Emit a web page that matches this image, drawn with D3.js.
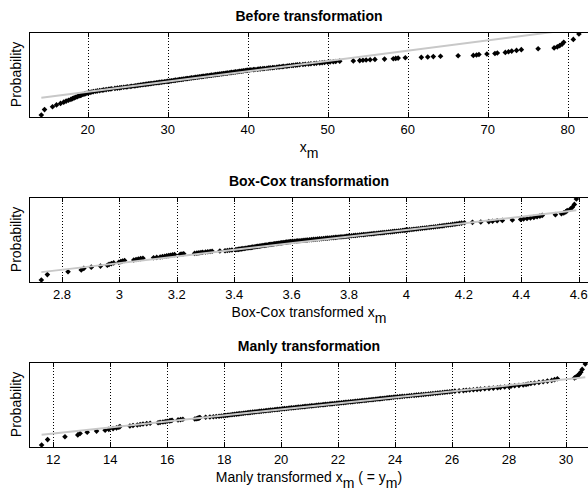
<!DOCTYPE html>
<html><head><meta charset="utf-8">
<script src="https://cdn.jsdelivr.net/npm/d3@7"></script>
<style>
body{margin:0;background:#fff}
svg{display:block}
text{font-family:"Liberation Sans",Arial,Helvetica,sans-serif;fill:#000}
</style>
</head><body>
<svg id="chart" width="588" height="493"></svg>
<script>
// ---- data (sorted sample values) ----
const beforeValues = [
14.2,14.6,15.6,16.1,16.6,17.0,17.3,17.6,17.9,18.1,18.3,18.5,18.7,18.9,19.1,19.2,19.4,19.6,19.7,19.9,
20.1,20.3,20.5,20.7,21.0,21.2,21.5,21.8,22.0,22.3,22.6,22.8,23.0,23.4,23.7,24.0,24.2,24.5,24.8,25.0,
25.3,25.5,25.8,26.0,26.2,26.4,26.6,26.8,27.0,27.2,27.4,27.6,27.8,28.0,28.2,28.4,28.6,28.8,29.0,29.2,
29.4,29.6,29.8,30.0,30.2,
30.4,30.5,30.7,30.9,31.0,31.2,31.4,31.5,31.7,31.9,32.0,32.2,32.4,32.5,32.7,32.9,33.0,33.2,33.4,33.5,
33.7,33.9,34.0,34.2,34.4,34.5,34.7,34.9,35.0,35.2,35.4,35.5,35.7,35.9,36.0,36.2,36.4,36.5,36.7,36.9,
37.0,37.2,37.4,37.5,37.7,37.9,38.0,38.2,38.4,38.5,38.7,38.9,39.0,39.2,39.4,39.5,39.7,39.9,40.0,
40.2,40.4,40.7,40.9,41.2,41.4,41.6,41.9,42.1,42.4,42.6,42.8,43.1,43.3,43.6,43.8,44.0,44.3,44.5,44.8,
45.0,45.2,45.5,45.7,46.0,46.2,
46.5,46.9,47.2,47.6,47.9,48.3,48.6,49.0,49.3,49.6,50.0,50.3,50.7,51.0,
51.5,53.2,54.0,54.4,54.8,55.3,55.9,57.1,58.2,58.5,58.8,59.7,61.7,62.5,63.2,64.1,66.3,68.2,68.6,68.9,
69.9,70.9,71.2,72.2,72.6,73.0,73.6,74.2,76.3,78.3,78.7,79.0,79.3,79.5,80.7,81.4
];
const boxCoxValues = [
2.728,2.749,2.821,2.867,2.876,2.902,2.934,
2.958,2.964,2.972,2.980,
2.998,3.005,3.011,3.018,
3.050,3.058,3.066,3.074,3.082,3.119,
3.130,3.142,3.150,3.158,3.165,3.172,3.178,3.185,3.192,
3.212,3.218,3.224,
3.262,3.270,3.277,3.284,3.290,3.300,3.308,3.316,3.323,3.350,3.368,3.376,3.384,3.392,
3.405,3.410,3.415,3.420,3.425,3.430,3.435,3.440,3.445,3.450,3.455,3.460,3.464,3.469,3.473,3.478,
3.482,3.487,3.491,3.496,3.500,3.505,3.510,3.514,3.519,3.523,3.528,3.532,3.537,3.541,3.546,3.550,
3.555,3.560,3.564,3.569,3.573,3.578,3.582,3.587,3.591,3.596,
3.602,3.609,3.616,3.622,3.629,3.636,3.643,3.650,3.656,3.663,3.670,3.677,3.684,3.690,3.697,3.704,
3.711,3.718,3.724,3.731,3.738,3.745,3.752,3.758,3.765,3.772,3.779,3.786,3.792,3.797,
3.802,3.809,3.816,3.822,3.829,3.836,3.843,3.850,3.856,3.863,3.870,3.877,3.884,3.890,3.897,3.904,
3.911,3.918,3.924,3.931,3.938,3.945,3.952,3.958,3.965,3.972,3.979,3.986,3.992,3.998,
4.004,4.011,4.019,4.026,4.034,4.041,4.049,4.056,4.064,4.071,4.079,4.086,4.094,4.101,4.109,4.116,
4.124,4.131,4.139,4.146,4.154,4.161,4.169,4.176,4.184,4.192,
4.202,4.230,4.259,4.287,4.300,4.316,4.334,4.369,4.398,4.408,4.420,4.432,4.444,4.455,4.465,4.473,
4.519,4.540,4.548,4.555,4.560,4.571,4.578,4.585,4.592
];
const manlyValues = [
11.59,11.80,12.41,12.86,12.94,13.19,13.52,
13.82,13.95,14.10,14.22,
14.30,14.34,14.69,14.80,14.95,15.05,15.15,15.28,15.40,
15.68,15.75,15.85,15.93,16.00,16.08,16.13,16.17,
16.38,16.47,16.55,
16.97,17.02,17.07,17.10,17.13,17.15,
17.35,17.50,17.62,17.72,17.82,17.90,17.98,
18.05,18.11,18.17,18.24,18.30,18.36,18.43,18.49,18.55,18.62,18.68,18.74,18.81,18.87,18.93,19.00,
19.06,19.12,19.19,19.25,19.31,19.38,19.44,19.50,19.57,19.63,19.69,19.76,19.82,19.88,19.94,20.00,
20.06,20.12,20.19,20.25,20.31,20.37,20.44,20.50,20.56,20.62,20.69,20.75,20.81,20.87,20.94,21.00,
21.06,21.12,21.19,21.25,21.31,21.37,21.44,21.50,21.56,21.62,21.69,21.75,21.81,21.87,21.94,22.00,
22.06,22.12,22.19,22.25,22.31,22.37,22.44,22.50,22.56,22.62,22.69,22.75,22.81,22.87,22.94,23.00,
23.06,23.12,23.19,23.25,23.31,23.37,23.44,23.50,23.56,23.62,23.69,23.75,23.81,23.87,23.94,24.00,
24.08,24.17,24.25,24.33,24.42,24.50,24.58,24.67,24.75,24.83,24.92,25.00,25.08,25.17,25.25,25.33,
25.42,25.50,25.58,25.67,25.75,25.83,25.92,26.00,
26.10,26.25,26.40,26.50,26.62,26.75,26.88,27.00,27.15,27.30,27.45,27.60,27.70,27.85,28.00,
28.07,28.20,28.35,28.50,28.60,28.67,28.77,28.90,29.05,29.20,29.35,29.50,29.60,29.70,
30.30,30.36,30.42,30.47,30.52,30.57,30.68
];
const panelTitles = ["Before transformation","Box-Cox transformation","Manly transformation"];
const xLimits = [[12.66,82.66],[2.685,4.636],[11.147,30.81]];
const xTickValues = [
  [20,30,40,50,60,70,80],
  [2.8,3,3.2,3.4,3.6,3.8,4,4.2,4.4,4.6],
  [12,14,16,18,20,22,24,26,28,30]
];
const xLabelParts = [
  [["x",0],["m",1]],
  [["Box-Cox transformed x",0],["m",1]],
  [["Manly transformed x",0],["m",1],[" ( = y",0],["m",1],[")",0]]
];
const yLabel = "Probability";

// ---- helpers ----
function norminv(p){
  const a=[-3.969683028665376e+01,2.209460984245205e+02,-2.759285104469687e+02,1.383577518672690e+02,-3.066479806614716e+01,2.506628277459239e+00];
  const b=[-5.447609879822406e+01,1.615858368580409e+02,-1.556989798598866e+02,6.680131188771972e+01,-1.328068155288572e+01];
  const c=[-7.784894002430293e-03,-3.223964580411365e-01,-2.400758277161838e+00,-2.549732539343734e+00,4.374664141464968e+00,2.938163982698783e+00];
  const d=[7.784695709041462e-03,3.224671290700398e-01,2.445134137142996e+00,3.754408661907416e+00];
  const pl=0.02425, ph=1-pl; let q,r;
  if(p<pl){q=Math.sqrt(-2*Math.log(p));return (((((c[0]*q+c[1])*q+c[2])*q+c[3])*q+c[4])*q+c[5])/((((d[0]*q+d[1])*q+d[2])*q+d[3])*q+1);}
  if(p<=ph){q=p-0.5;r=q*q;return (((((a[0]*r+a[1])*r+a[2])*r+a[3])*r+a[4])*r+a[5])*q/(((((b[0]*r+b[1])*r+b[2])*r+b[3])*r+b[4])*r+1);}
  q=Math.sqrt(-2*Math.log(1-p));return -(((((c[0]*q+c[1])*q+c[2])*q+c[3])*q+c[4])*q+c[5])/((((d[0]*q+d[1])*q+d[2])*q+d[3])*q+1);
}

const svg = d3.select("#chart");
const allData = [beforeValues, boxCoxValues, manlyValues];
const left = 29, right = 589, plotH = 85;
const tops = [32, 197, 362];
const yPad = 0.14;
const diamond = d3.symbol().type(d3.symbolDiamond2 || d3.symbolDiamond).size(20);

allData.forEach((vals, k) => {
  const top = tops[k], bottom = top + plotH;
  const n = vals.length;
  const sorted = vals.slice().sort(d3.ascending);
  const pts = sorted.map((v, i) => ({x: v, z: norminv((i + 0.5) / n)}));
  const zmax = norminv((n - 0.5) / n);
  const x = d3.scaleLinear().domain(xLimits[k]).range([left, right]);
  const y = d3.scaleLinear().domain([-zmax - yPad, zmax + yPad]).range([bottom, top]);

  const g = svg.append("g");
  const clipId = "clip" + k;
  svg.append("clipPath").attr("id", clipId).append("rect")
    .attr("x", left).attr("y", top).attr("width", right - left).attr("height", plotH);

  const ticks = xTickValues[k];
  g.selectAll(".grid").data(ticks).enter().append("line")
    .attr("x1", d => Math.round(x(d)) + 0.5).attr("x2", d => Math.round(x(d)) + 0.5)
    .attr("y1", top).attr("y2", bottom)
    .attr("stroke", "#000").attr("stroke-width", 1).attr("stroke-dasharray", "1,2");
  g.selectAll(".tb").data(ticks).enter().append("line")
    .attr("x1", d => Math.round(x(d)) + 0.5).attr("x2", d => Math.round(x(d)) + 0.5)
    .attr("y1", bottom).attr("y2", bottom - 5).attr("stroke", "#000");
  g.selectAll(".tt").data(ticks).enter().append("line")
    .attr("x1", d => Math.round(x(d)) + 0.5).attr("x2", d => Math.round(x(d)) + 0.5)
    .attr("y1", top).attr("y2", top + 5).attr("stroke", "#000");

  const pg = g.append("g").attr("clip-path", `url(#${clipId})`);
  pg.selectAll("path.pt").data(pts).enter().append("path")
    .attr("d", diamond)
    .attr("transform", d => `translate(${x(d.x)},${y(d.z)})`)
    .attr("fill", "#000");

  const q1x = d3.quantile(sorted, 0.25), q3x = d3.quantile(sorted, 0.75);
  const q1z = norminv(0.25), q3z = norminv(0.75);
  const slope = (q3z - q1z) / (q3x - q1x);
  const fit = v => q1z + (v - q1x) * slope;
  const xmin = sorted[0], xmax = sorted[n - 1];
  pg.append("line")
    .attr("x1", x(xmin)).attr("y1", y(fit(xmin)))
    .attr("x2", x(xmax)).attr("y2", y(fit(xmax)))
    .attr("stroke", "#c8c8c8").attr("stroke-width", 2);

  g.append("rect").attr("x", left + 0.5).attr("y", top + 0.5)
    .attr("width", right - left).attr("height", plotH)
    .attr("fill", "none").attr("stroke", "#000").attr("stroke-width", 1);

  g.selectAll(".tl").data(ticks).enter().append("text")
    .attr("x", d => x(d)).attr("y", bottom + 16.5)
    .attr("text-anchor", "middle").attr("font-size", 13)
    .text(d => String(d));

  g.append("text").attr("x", (left + right) / 2).attr("y", top - 11)
    .attr("text-anchor", "middle").attr("font-size", 14).attr("font-weight", "bold")
    .text(panelTitles[k]);

  const xl = g.append("text").attr("x", (left + right) / 2).attr("y", bottom + 35)
    .attr("text-anchor", "middle").attr("font-size", 14);
  xLabelParts[k].forEach(([t, sub], j) => {
    const prevSub = j > 0 ? xLabelParts[k][j - 1][1] : 0;
    const dy = sub && !prevSub ? 6 : (!sub && prevSub ? -6 : 0);
    xl.append("tspan").attr("dy", dy).text(t);
  });

  g.append("text").attr("transform", `translate(20.5,${(top + bottom) / 2}) rotate(-90)`)
    .attr("text-anchor", "middle").attr("font-size", 14).text(yLabel);
});
</script>
</body></html>
